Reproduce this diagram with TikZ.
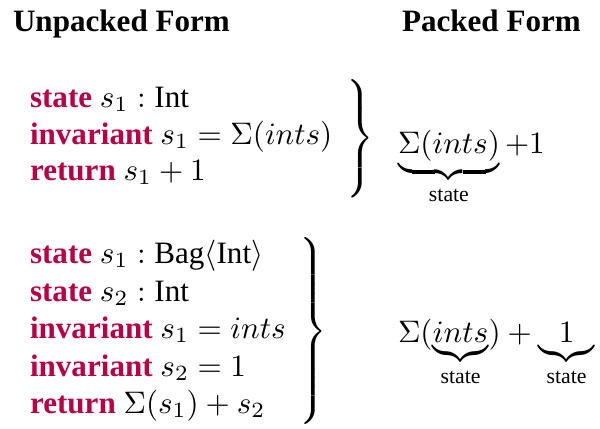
\documentclass[tikz,border=0pt]{standalone}
\usepackage{amsmath}
\usepackage{graphicx}
\usepackage{fontspec}
\setmainfont{Liberation Serif}
\usepackage{xcolor}
\definecolor{kwc}{RGB}{185,0,70}
\newcommand\kw[1]{\textcolor{kwc}{\textbf{#1}}}
\newcommand\bracebox[1]{$\left.\vcenter{\hbox{\rule{0pt}{#1}}}\right\}$}
\begin{document}
\begin{tikzpicture}[x=0.3215pt,y=-0.3215pt,
  every node/.style={inner sep=0pt,outer sep=0pt},
  codeline/.style={anchor=base west},
  head/.style={anchor=base west,font=\bfseries},
  bracenode/.style={anchor=east}]
\useasboundingbox (0,0) rectangle (600,428);
\node[head] (h1) at (13,31) {Unpacked Form};
\node[head] (h2) at (402,31) {Packed Form};
% block 1
\node[codeline] (a1) at (30,107) {\kw{state} $s_1 : \text{Int}$};
\node[codeline] (a2) at (30,144) {\kw{invariant} $s_1 = \Sigma(ints)$};
\node[codeline] (a3) at (30,180) {\kw{return} $s_1 + 1$};
\node[bracenode] (b1) at (374,138.5) {\scalebox{1}[1.056]{\bracebox{38pt}}};
\node[codeline] (p1) at (398,153) {$\underbrace{\Sigma(ints)}_{\text{state}} +1$};
% block 2
\node[codeline] (c1) at (30,263) {\kw{state} $s_1 : \text{Bag}\langle\text{Int}\rangle$};
\node[codeline] (c2) at (30,301) {\kw{state} $s_2 : \text{Int}$};
\node[codeline] (c3) at (30,338) {\kw{invariant} $s_1 = ints$};
\node[codeline] (c4) at (30,376) {\kw{invariant} $s_2 = 1$};
\node[codeline] (c5) at (30,413) {\kw{return} $\Sigma(s_1) + s_2$};
\node[bracenode] (b2) at (327,331) {\bracebox{64pt}};
\node[codeline] (p2) at (398,342) {$\Sigma(\underbrace{ints}_{\text{state}}) + \underbrace{1}_{\text{state}}$};
\end{tikzpicture}
\end{document}
